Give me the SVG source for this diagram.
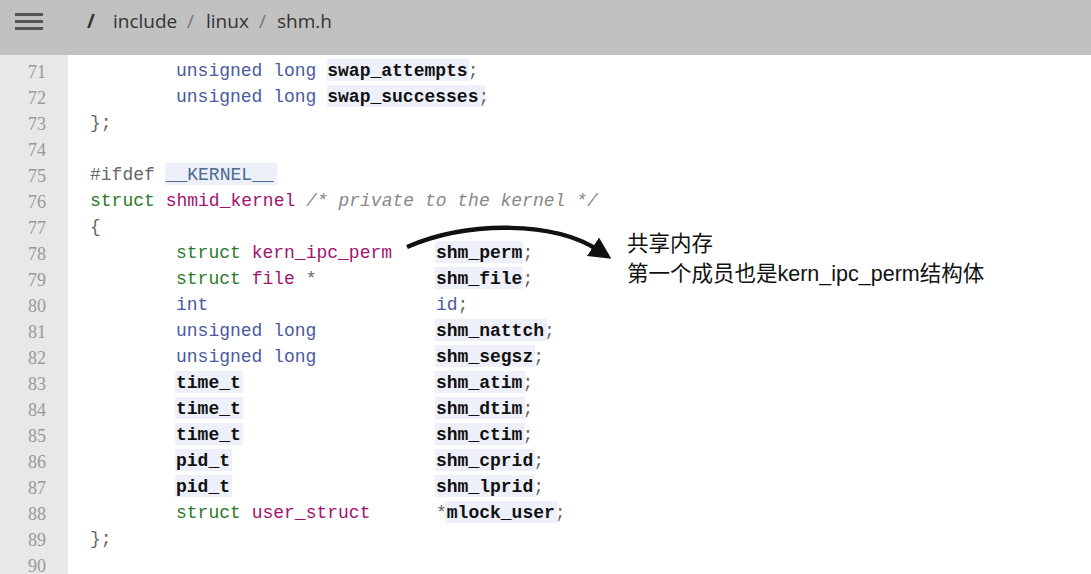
<svg xmlns="http://www.w3.org/2000/svg" width="1091" height="574" viewBox="0 0 1091 574">
<style>
.c{font-family:"Liberation Mono","DejaVu Sans Mono",monospace;font-size:18px;white-space:pre}
.n{font-family:"Liberation Serif",serif;font-size:18px;fill:#999;text-anchor:end}
.k{fill:#4b5aa0}
.t{fill:#a3126f}
.id{fill:#111;font-weight:bold}
.g{fill:#666}
.cm{fill:#888;font-style:italic}
.hl{fill:#eef0f9}
.zh{font-family:"Liberation Sans","Noto Sans CJK SC",sans-serif;font-size:21.5px;fill:#111}
.hd{font-family:"Open Sans",sans-serif;font-size:19px;fill:#333}
</style>
<defs><marker id="ah" markerWidth="22" markerHeight="22" refX="6" refY="11" orient="auto" markerUnits="userSpaceOnUse" viewBox="0 0 22 22"><path d="M0,0 L22,11 L0,22 z" fill="#111"/></marker></defs>
<rect width="1091" height="574" fill="#fff"/>
<rect x="0" y="55" width="68" height="519" fill="#e8e8e8"/>
<rect width="1091" height="55" fill="#c1c1c1"/>
<g fill="#555"><rect x="15" y="13" width="28" height="3"/><rect x="15" y="20" width="28" height="3"/><rect x="15" y="27" width="28" height="3"/></g>
<g id="header" class="hd">
<text x="87" y="28" font-weight="bold">/</text><text x="113" y="28">include</text><text x="187" y="28" fill="#777">/</text><text x="206" y="28">linux</text><text x="259" y="28" fill="#777">/</text><text x="277" y="28">shm.h</text>
</g>
<g class="n">
<text x="46" y="78">71</text><text x="46" y="104">72</text><text x="46" y="130">73</text><text x="46" y="156">74</text><text x="46" y="182">75</text><text x="46" y="208">76</text><text x="46" y="234">77</text><text x="46" y="260">78</text><text x="46" y="286">79</text><text x="46" y="312">80</text><text x="46" y="338">81</text><text x="46" y="364">82</text><text x="46" y="390">83</text><text x="46" y="416">84</text><text x="46" y="442">85</text><text x="46" y="468">86</text><text x="46" y="494">87</text><text x="46" y="520">88</text><text x="46" y="546">89</text><text x="46" y="572">90</text>
</g>
<g class="hl">
<rect x="327" y="59" width="142" height="22"/><rect x="327" y="85" width="158" height="22"/>
<rect x="165" y="163" width="112" height="22"/>
<rect x="435" y="241" width="88" height="22"/><rect x="435" y="267" width="88" height="22"/>
<rect x="435" y="319" width="112" height="22"/><rect x="435" y="345" width="100" height="22"/>
<rect x="435" y="371" width="90" height="22"/><rect x="435" y="397" width="90" height="22"/><rect x="435" y="423" width="90" height="22"/><rect x="435" y="449" width="100" height="22"/><rect x="435" y="475" width="100" height="22"/><rect x="445" y="501" width="112" height="22"/>
<rect x="175" y="371" width="68" height="22"/><rect x="175" y="397" width="68" height="22"/><rect x="175" y="423" width="68" height="22"/><rect x="175" y="449" width="57" height="22"/><rect x="175" y="475" width="57" height="22"/>
</g>
<g class="c" transform="translate(0,-2)">
<text x="176" y="78"><tspan class="k">unsigned long</tspan> <tspan class="id">swap_attempts</tspan><tspan class="g">;</tspan></text>
<text x="176" y="104"><tspan class="k">unsigned long</tspan> <tspan class="id">swap_successes</tspan><tspan class="g">;</tspan></text>
<text x="90" y="130" class="g">};</text>
<text x="90" y="182"><tspan class="g">#ifdef </tspan><tspan fill="#4b6a90">__KERNEL__</tspan></text>
<text x="90" y="208"><tspan fill="#2a7a2a">struct</tspan> <tspan class="t">shmid_kernel</tspan> <tspan class="cm">/* private to the kernel */</tspan></text>
<text x="90" y="234" class="g">{</text>
<text x="176" y="260"><tspan fill="#2a7a2a">struct</tspan> <tspan class="t">kern_ipc_perm</tspan></text><text x="436" y="260"><tspan class="id">shm_perm</tspan><tspan class="g">;</tspan></text>
<text x="176" y="286"><tspan fill="#2a7a2a">struct</tspan> <tspan class="t">file</tspan> <tspan class="g">*</tspan></text><text x="436" y="286"><tspan class="id">shm_file</tspan><tspan class="g">;</tspan></text>
<text x="176" y="312" class="k">int</text><text x="436" y="312" class="k">id<tspan class="g">;</tspan></text>
<text x="176" y="338" class="k">unsigned long</text><text x="436" y="338"><tspan class="id">shm_nattch</tspan><tspan class="g">;</tspan></text>
<text x="176" y="364" class="k">unsigned long</text><text x="436" y="364"><tspan class="id">shm_segsz</tspan><tspan class="g">;</tspan></text>
<text x="176" y="390" class="id">time_t</text><text x="436" y="390"><tspan class="id">shm_atim</tspan><tspan class="g">;</tspan></text>
<text x="176" y="416" class="id">time_t</text><text x="436" y="416"><tspan class="id">shm_dtim</tspan><tspan class="g">;</tspan></text>
<text x="176" y="442" class="id">time_t</text><text x="436" y="442"><tspan class="id">shm_ctim</tspan><tspan class="g">;</tspan></text>
<text x="176" y="468" class="id">pid_t</text><text x="436" y="468"><tspan class="id">shm_cprid</tspan><tspan class="g">;</tspan></text>
<text x="176" y="494" class="id">pid_t</text><text x="436" y="494"><tspan class="id">shm_lprid</tspan><tspan class="g">;</tspan></text>
<text x="176" y="520"><tspan fill="#2a7a2a">struct</tspan> <tspan class="t">user_struct</tspan></text><text x="436" y="520"><tspan class="g">*</tspan><tspan class="id">mlock_user</tspan><tspan class="g">;</tspan></text>
<text x="90" y="546" class="g">};</text>
</g>
<g id="connectors"><path d="M407,247 C470,220 555,222 598,250" fill="none" stroke="#111" stroke-width="4.5" marker-end="url(#ah)"/></g>
<g id="note"><text class="zh" x="627" y="251">共享内存</text><text class="zh" x="627" y="281">第一个成员也是kern_ipc_perm结构体</text></g>
</svg>
